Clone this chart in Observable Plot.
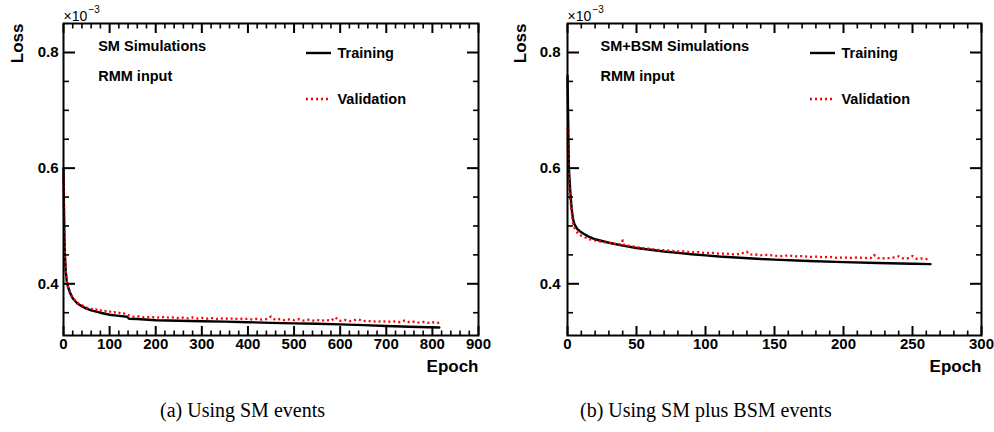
<!DOCTYPE html>
<html>
<head>
<meta charset="utf-8">
<script src="https://cdn.jsdelivr.net/npm/d3@7"></script>
<script src="https://cdn.jsdelivr.net/npm/@observablehq/plot@0.6"></script>
<style>
  html, body { margin: 0; padding: 0; background: #fff; }
  #wrap { position: relative; width: 994px; height: 432px; overflow: hidden; background: #fff; }
  .panel { position: absolute; top: 0; }
  .leg { position: absolute; width: 26px; height: 6px; overflow: visible; }
  .cap { position: absolute; top: 398px; font-family: "Liberation Serif", "Times New Roman", serif; font-size: 20px; line-height: 24px; white-space: nowrap; color: #000; }
</style>
</head>
<body>
<div id="wrap"></div>
<script>
// ---------- data ----------
// y ticks (Loss, ×10^-3)
const yMajorTicks = [0.4, 0.6, 0.8];
const yMinorTicks = [0.35, 0.45, 0.5, 0.55, 0.65, 0.7, 0.75];

// panel (a) x ticks
const smXMajor = [0, 100, 200, 300, 400, 500, 600, 700, 800, 900];
const smXMinor = [20, 40, 60, 80, 120, 140, 160, 180, 220, 240, 260, 280, 320, 340, 360, 380,
  420, 440, 460, 480, 520, 540, 560, 580, 620, 640, 660, 680, 720, 740, 760, 780, 820, 840, 860, 880];
// panel (b) x ticks
const bsmXMajor = [0, 50, 100, 150, 200, 250, 300];
const bsmXMinor = [10, 20, 30, 40, 60, 70, 80, 90, 110, 120, 130, 140, 160, 170, 180, 190,
  210, 220, 230, 240, 260, 270, 280, 290];

// panel (a): SM simulations, [epoch, loss]
const smTraining = [
  [0, 0.600], [1, 0.530], [2, 0.480], [3, 0.450], [5, 0.420], [7, 0.405], [10, 0.394],
  [15, 0.383], [20, 0.375], [30, 0.366], [40, 0.361], [50, 0.357], [60, 0.354], [80, 0.350],
  [100, 0.3465], [120, 0.3445], [138, 0.3430], [142, 0.3395], [160, 0.3390], [200, 0.3370],
  [250, 0.3362], [300, 0.3353], [350, 0.3345], [400, 0.3336], [450, 0.3325], [500, 0.3315],
  [550, 0.3308], [600, 0.3298], [650, 0.3285], [700, 0.3270], [750, 0.3258], [815, 0.3245]
];
const smValidation = [
  [0, 0.595], [1, 0.540], [2, 0.490], [3, 0.455], [4, 0.435], [5, 0.420], [7, 0.405],
  [10, 0.394], [13, 0.387], [16, 0.381], [20, 0.377], [25, 0.371], [30, 0.368], [35, 0.364],
  [40, 0.363], [45, 0.360], [50, 0.359], [55, 0.357], [60, 0.357], [65, 0.355], [70, 0.356],
  [75, 0.353], [80, 0.354], [85, 0.352], [90, 0.353], [95, 0.351], [100, 0.352], [105, 0.350],
  [110, 0.351], [115, 0.349], [120, 0.350], [125, 0.348], [130, 0.349], [135, 0.347],
  [140, 0.346], [145, 0.344], [150, 0.343], [160, 0.344], [170, 0.342], [180, 0.343],
  [190, 0.342], [200, 0.3425], [210, 0.341], [220, 0.343], [230, 0.341], [240, 0.342],
  [250, 0.3405], [260, 0.3415], [270, 0.340], [280, 0.342], [290, 0.340], [300, 0.341],
  [310, 0.3395], [320, 0.341], [330, 0.339], [340, 0.3405], [350, 0.339], [360, 0.341],
  [370, 0.3385], [380, 0.340], [390, 0.339], [400, 0.3395], [410, 0.338], [420, 0.3395],
  [430, 0.338], [440, 0.339], [450, 0.3435], [455, 0.340], [460, 0.3375], [470, 0.339],
  [480, 0.337], [490, 0.3385], [500, 0.337], [510, 0.339], [520, 0.3365], [530, 0.338],
  [540, 0.3365], [550, 0.3375], [560, 0.336], [570, 0.3375], [580, 0.336], [590, 0.342],
  [595, 0.337], [600, 0.336], [610, 0.3375], [620, 0.3355], [630, 0.337], [640, 0.3385],
  [650, 0.3355], [660, 0.336], [670, 0.3345], [680, 0.3355], [690, 0.334], [700, 0.3355],
  [710, 0.334], [720, 0.335], [730, 0.3335], [740, 0.3365], [750, 0.3335], [760, 0.3345],
  [770, 0.333], [780, 0.334], [790, 0.3325], [800, 0.3335], [810, 0.332], [815, 0.333]
];

// panel (b): SM+BSM simulations, [epoch, loss]
const bsmTraining = [
  [0, 0.760], [1, 0.600], [2, 0.560], [3, 0.530], [4, 0.512], [5, 0.503], [7, 0.495],
  [10, 0.489], [12, 0.486], [15, 0.482], [20, 0.477], [25, 0.474], [30, 0.471], [40, 0.466],
  [50, 0.4620], [60, 0.4588], [70, 0.4558], [80, 0.4535], [90, 0.4512], [100, 0.4492],
  [110, 0.4472], [125, 0.4450], [140, 0.4430], [150, 0.4418], [175, 0.4395], [200, 0.4375],
  [225, 0.4360], [250, 0.4346], [263, 0.4340]
];
const bsmValidation = [
  [0, 0.670], [1, 0.580], [2, 0.545], [3, 0.525], [4, 0.505], [5, 0.497], [6, 0.492],
  [8, 0.486], [10, 0.483], [12, 0.481], [14, 0.479], [16, 0.477], [18, 0.476], [20, 0.475],
  [22, 0.4745], [24, 0.473], [26, 0.472], [28, 0.4715], [30, 0.471], [33, 0.470], [36, 0.468],
  [39, 0.4685], [40, 0.475], [41, 0.467], [45, 0.4655], [50, 0.4635], [55, 0.4615],
  [60, 0.4605], [65, 0.4588], [70, 0.458], [75, 0.4572], [80, 0.456], [85, 0.4558],
  [90, 0.4545], [95, 0.4548], [100, 0.4532], [105, 0.4536], [110, 0.452], [115, 0.4522],
  [120, 0.451], [125, 0.4515], [130, 0.4555], [132, 0.4505], [135, 0.451], [140, 0.4495],
  [145, 0.450], [150, 0.4485], [155, 0.448], [160, 0.449], [165, 0.4475], [170, 0.448],
  [175, 0.4465], [180, 0.447], [185, 0.446], [190, 0.4465], [195, 0.445], [200, 0.4455],
  [205, 0.4448], [210, 0.4455], [215, 0.4445], [220, 0.445], [222, 0.4500], [225, 0.4445],
  [230, 0.444], [235, 0.4448], [240, 0.4475], [243, 0.444], [246, 0.4436], [250, 0.448],
  [253, 0.4432], [256, 0.4438], [260, 0.4428], [263, 0.444]
];

const panelTitles = ["SM Simulations", "SM+BSM Simulations"];
const inputLabel = "RMM input";
const seriesNames = ["Training", "Validation"];
const captions = ["(a) Using SM events", "(b) Using SM plus BSM events"];

// ---------- drawing ----------
const FONT = "'Liberation Sans', Arial, Helvetica, sans-serif";
const W = 497, H = 390, MT = 23, MB = 55;
const Y_DOMAIN = [0.31059, 0.85015];
const VAL_DASH = "2,3";

function toRows(pairs) { return pairs.map(([epoch, loss]) => ({epoch, loss})); }

function panel(o) {
  const blank = () => "";
  return Plot.plot({
    width: W, height: H,
    marginLeft: o.ml, marginRight: o.mr, marginTop: MT, marginBottom: MB,
    x: {domain: o.xDomain},
    y: {domain: Y_DOMAIN},
    style: {fontFamily: FONT, fontSize: "15px", fontWeight: "bold", background: "white", color: "black", overflow: "visible"},
    marks: [
      Plot.line(toRows(o.training), {x: "epoch", y: "loss", stroke: "#000", strokeWidth: 2.4}),
      Plot.line(toRows(o.validation), {x: "epoch", y: "loss", stroke: "#ff0000", strokeWidth: 2.3,
        strokeDasharray: VAL_DASH, strokeLinecap: "butt"}),
      // y axis (left) with inward ticks
      Plot.axisY({ticks: yMajorTicks, anchor: "left", tickSize: -12, tickPadding: o.yPad, strokeWidth: 2,
        tickFormat: d3.format(".1f"), label: null, fontSize: 15}),
      Plot.axisY({ticks: yMinorTicks, anchor: "left", tickSize: -6, strokeWidth: 1.6, tickFormat: blank, label: null}),
      // mirrored y ticks (right)
      Plot.axisY({ticks: yMajorTicks, anchor: "right", tickSize: -12, strokeWidth: 2, tickFormat: blank, label: null}),
      Plot.axisY({ticks: yMinorTicks, anchor: "right", tickSize: -6, strokeWidth: 1.6, tickFormat: blank, label: null}),
      // x axis (bottom)
      Plot.axisX({ticks: o.xMajor, anchor: "bottom", tickSize: -9, tickPadding: 12, strokeWidth: 2,
        tickFormat: d => String(d), label: null, fontSize: 15}),
      Plot.axisX({ticks: o.xMinor, anchor: "bottom", tickSize: -4.5, strokeWidth: 1.6, tickFormat: blank, label: null}),
      // mirrored x ticks (top)
      Plot.axisX({ticks: o.xMajor, anchor: "top", tickSize: -9, strokeWidth: 2, tickFormat: blank, label: null}),
      Plot.axisX({ticks: o.xMinor, anchor: "top", tickSize: -4.5, strokeWidth: 1.6, tickFormat: blank, label: null}),
      Plot.frame({stroke: "#000", strokeWidth: 2}),
      // axis titles
      Plot.text(["Loss"], {frameAnchor: "top-left", dx: o.lossDx, dy: 0, rotate: -90, textAnchor: "end",
        lineAnchor: "middle", fontSize: 17, fontWeight: "bold"}),
      Plot.text(["Epoch"], {frameAnchor: "bottom-right", dx: 0, dy: 36, textAnchor: "end",
        lineAnchor: "bottom", fontSize: 17, fontWeight: "bold"}),
      // exponent
      Plot.text(["×10"], {frameAnchor: "top-left", dx: 0, dy: -2.3, textAnchor: "start", lineAnchor: "bottom",
        fontSize: 14, fontWeight: "normal"}),
      Plot.text(["−3"], {frameAnchor: "top-left", dx: 25, dy: -10.5, textAnchor: "start", lineAnchor: "bottom",
        fontSize: 10, fontWeight: "normal"}),
      // annotations
      Plot.text([o.title], {frameAnchor: "top-left", dx: o.titleDx, dy: 27.7, textAnchor: "start",
        lineAnchor: "bottom", fontSize: 14.5, fontWeight: "bold"}),
      Plot.text([inputLabel], {frameAnchor: "top-left", dx: o.titleDx, dy: 57.7, textAnchor: "start",
        lineAnchor: "bottom", fontSize: 14.5, fontWeight: "bold"}),
      // legend labels
      Plot.text([seriesNames[0]], {frameAnchor: "top-left", dx: o.legDx, dy: 34.7, textAnchor: "start",
        lineAnchor: "bottom", fontSize: 14.5, fontWeight: "bold"}),
      Plot.text([seriesNames[1]], {frameAnchor: "top-left", dx: o.legDx, dy: 80.3, textAnchor: "start",
        lineAnchor: "bottom", fontSize: 14.5, fontWeight: "bold"})
    ]
  });
}

const wrap = document.getElementById("wrap");
const NS = "http://www.w3.org/2000/svg";

function legendSwatch(left, top, stroke, width, dash) {
  const svg = document.createElementNS(NS, "svg");
  svg.setAttribute("class", "leg");
  svg.setAttribute("width", "26");
  svg.setAttribute("height", "6");
  svg.style.left = left + "px";
  svg.style.top = (top - 3) + "px";
  const ln = document.createElementNS(NS, "line");
  ln.setAttribute("x1", "0"); ln.setAttribute("x2", "25");
  ln.setAttribute("y1", "3"); ln.setAttribute("y2", "3");
  ln.setAttribute("stroke", stroke);
  ln.setAttribute("stroke-width", width);
  if (dash) ln.setAttribute("stroke-dasharray", dash);
  svg.appendChild(ln);
  wrap.appendChild(svg);
}

const cfgs = [
  {left: 0, ml: 63, mr: 19, xDomain: [0, 900], xMajor: smXMajor, xMinor: smXMinor,
   training: smTraining, validation: smValidation, title: panelTitles[0],
   yPad: 17, lossDx: -46, titleDx: 34.7, legDx: 274, legLine: 306},
  {left: 497, ml: 70, mr: 13, xDomain: [0, 300], xMajor: bsmXMajor, xMinor: bsmXMinor,
   training: bsmTraining, validation: bsmValidation, title: panelTitles[1],
   yPad: 19, lossDx: -47, titleDx: 33, legDx: 274, legLine: 810}
];

cfgs.forEach((c, i) => {
  const div = document.createElement("div");
  div.className = "panel";
  div.style.left = c.left + "px";
  div.appendChild(panel(c));
  wrap.appendChild(div);

  legendSwatch(c.legLine, 52.7, "#000", 2.4, null);
  legendSwatch(c.legLine, 98.7, "#ff0000", 2.3, VAL_DASH);

  const cap = document.createElement("div");
  cap.className = "cap";
  cap.style.left = (i === 0 ? 160 : 580) + "px";
  cap.textContent = captions[i];
  wrap.appendChild(cap);
});
</script>
</body>
</html>
